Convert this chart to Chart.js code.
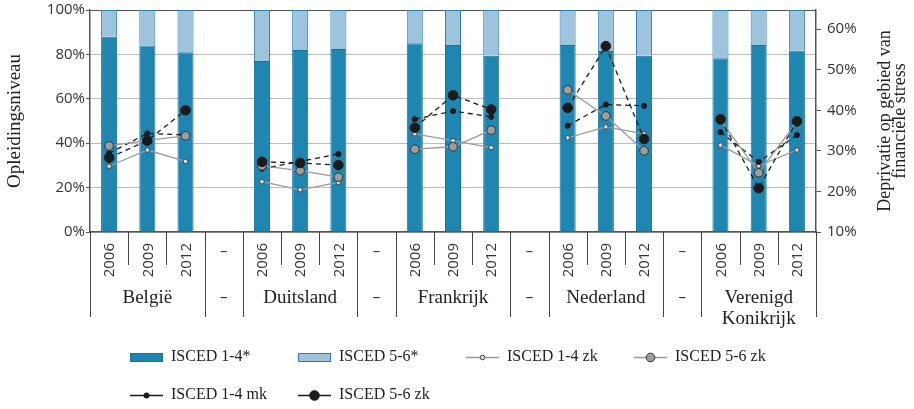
<!DOCTYPE html>
<html>
<head>
<meta charset="utf-8">
<script src="https://cdn.jsdelivr.net/npm/chart.js@4/dist/chart.umd.min.js"></script>
<style>
  html, body { margin: 0; padding: 0; background: #ffffff; }
  #wrap { width: 914px; height: 409px; position: relative; }
</style>
</head>
<body>
<div id="wrap"><canvas id="c" width="914" height="409"></canvas></div>
<script>
// ---- categories / tick labels ----
const xLabels = ['2006','2009','2012','–','2006','2009','2012','–','2006','2009','2012','–','2006','2009','2012','–','2006','2009','2012'];
const groupLabels = ['België','–','Duitsland','–','Frankrijk','–','Nederland','–',['Verenigd','Konikrijk']];
const groupSpans = [3,1,3,1,3,1,3,1,3];

// ---- bar series (left axis, share in %) ----
const isced14 = [88, 84, 81, null, 77, 82, 82.4, null, 85, 84.2, 79.4, null, 84.2, 81.5, 79.4, null, 78.3, 84.2, 81.8];
const isced56 = [12, 16, 19, null, 23, 18, 17.6, null, 15, 15.8, 20.6, null, 15.8, 18.5, 20.6, null, 21.7, 15.8, 18.2];

// ---- line series (right axis, deprivation %) ----
const isced14zk = [26.2, 30.2, 27.4, null, 22.4, 20.4, 22.2, null, 34.2, 32.5, 30.8, null, 33.2, 35.9, 34.2, null, 31.4, 26.3, 30.2];
const isced56zk = [31.2, 32.6, 33.7, null, 26.3, 25.1, 23.5, null, 30.4, 31.0, 35.1, null, 45.0, 38.6, 30.0, null, 37.6, 24.6, 37.1];
const isced14mk = [29.4, 34.3, 33.9, null, 25.6, 27.4, 29.2, null, 37.8, 39.8, 38.4, null, 36.2, 41.4, 41.1, null, 34.6, 27.3, 33.9];
const isced56mk = [28.3, 32.5, 40.0, null, 27.3, 27.0, 26.5, null, 35.7, 43.7, 40.2, null, 40.6, 55.8, 32.9, null, 37.8, 20.8, 37.3];

const seriesNames = ['ISCED 1-4*', 'ISCED 5-6*', 'ISCED 1-4 zk', 'ISCED 5-6 zk', 'ISCED 1-4 mk', 'ISCED 5-6 zk'];

const SERIF = '"Liberation Serif", "DejaVu Serif", serif';
const SANS = '"Open Sans", "Noto Sans", sans-serif';

const xAxisLabels = {
  id: 'xAxisLabels',
  afterDraw(chart) {
    const { ctx, chartArea } = chart;
    const x = chart.scales.x;
    const step = x.getPixelForValue(1) - x.getPixelForValue(0);
    const bottom = chartArea.bottom;
    ctx.save();
    const edges = new Set([0]);
    let acc = 0;
    groupSpans.forEach(s => { acc += s; edges.add(acc); });
    ctx.strokeStyle = '#444';
    ctx.lineWidth = 1;
    for (let i = 0; i <= xLabels.length; i++) {
      const xb = Math.round(x.getPixelForValue(0) - step / 2 + i * step) + 0.5;
      const len = edges.has(i) ? 85 : 33;
      ctx.beginPath();
      ctx.moveTo(xb, bottom);
      ctx.lineTo(xb, bottom + len);
      ctx.stroke();
    }
    ctx.fillStyle = '#333';
    ctx.font = '15px ' + SANS;
    xLabels.forEach((lab, i) => {
      const px = x.getPixelForValue(i);
      if (lab === '–') {
        ctx.textAlign = 'center';
        ctx.textBaseline = 'middle';
        ctx.fillText(lab, px, bottom + 20);
      } else {
        ctx.save();
        ctx.translate(px + 1, bottom + 11);
        ctx.rotate(-Math.PI / 2);
        ctx.textAlign = 'right';
        ctx.textBaseline = 'middle';
        ctx.fillText(lab, 0, 0);
        ctx.restore();
      }
    });
    ctx.fillStyle = '#222';
    ctx.textAlign = 'center';
    ctx.textBaseline = 'middle';
    let start = 0;
    groupLabels.forEach((g, gi) => {
      const span = groupSpans[gi];
      const cx = (x.getPixelForValue(start) + x.getPixelForValue(start + span - 1)) / 2;
      const lines = Array.isArray(g) ? g : [g];
      lines.forEach((t, li) => {
        ctx.font = (t === '–') ? '15px ' + SANS : '19px ' + SERIF;
        ctx.fillText(t, cx, bottom + 66 + li * 21);
      });
      start += span;
    });
    ctx.restore();
  }
};

const rightTitle = {
  id: 'rightTitle',
  afterDraw(chart) {
    const { ctx, chartArea } = chart;
    const r = chart.scales.y1;
    const cy = (chartArea.top + chartArea.bottom) / 2;
    ctx.save();
    ctx.font = '18px ' + SERIF;
    ctx.fillStyle = '#222';
    ctx.textAlign = 'center';
    ctx.textBaseline = 'middle';
    [['Deprivatie op gebied van', 69], ['financiële stress', 84]].forEach(([t, dx]) => {
      ctx.save();
      ctx.translate(r.left + dx, cy);
      ctx.rotate(-Math.PI / 2);
      ctx.fillText(t, 0, 0);
      ctx.restore();
    });
    ctx.restore();
  }
};

const customLegend = {
  id: 'customLegend',
  afterDraw(chart) {
    const { ctx } = chart;
    const cols = [130, 298, 466, 634];
    const rows = [357, 395];
    ctx.save();
    chart.data.datasets.forEach((ds, i) => {
      const x0 = cols[i % 4];
      const y = rows[Math.floor(i / 4)];
      if (ds.type === 'line') {
        ctx.strokeStyle = ds.borderColor;
        ctx.lineWidth = 1.3;
        ctx.setLineDash([]);
        ctx.beginPath();
        ctx.moveTo(x0, y + 0.5);
        ctx.lineTo(x0 + 33, y + 0.5);
        ctx.stroke();
        ctx.beginPath();
        ctx.arc(x0 + 16.5, y + 0.5, ds.pointRadius, 0, Math.PI * 2);
        ctx.fillStyle = ds.pointBackgroundColor;
        ctx.fill();
        ctx.strokeStyle = ds.pointBorderColor;
        ctx.lineWidth = 1;
        ctx.stroke();
      } else {
        ctx.fillStyle = ds.backgroundColor;
        ctx.fillRect(x0, y - 4, 33, 9);
        ctx.strokeStyle = ds.borderColor;
        ctx.lineWidth = 1;
        ctx.strokeRect(x0 + 0.5, y - 3.5, 32, 8);
      }
      ctx.font = '16px ' + SERIF;
      ctx.fillStyle = '#222';
      ctx.textAlign = 'left';
      ctx.textBaseline = 'middle';
      ctx.fillText(ds.label, x0 + 41, y);
    });
    ctx.restore();
  }
};

const lineCommon = {
  type: 'line',
  yAxisID: 'y1',
  spanGaps: false,
  borderWidth: 1.3,
  pointBorderWidth: 1,
  tension: 0
};

new Chart(document.getElementById('c'), {
  type: 'bar',
  data: {
    labels: xLabels,
    datasets: [
      { label: seriesNames[0], data: isced14, yAxisID: 'y', stack: 's', order: 10,
        backgroundColor: '#1f86b1', borderColor: '#17719b', borderWidth: 1,
        barPercentage: 0.42, categoryPercentage: 1 },
      { label: seriesNames[1], data: isced56, yAxisID: 'y', stack: 's', order: 11,
        backgroundColor: '#9dc3dd', borderColor: '#2d7fae', borderWidth: 1,
        barPercentage: 0.42, categoryPercentage: 1 },
      Object.assign({}, lineCommon, { label: seriesNames[2], data: isced14zk, order: 4,
        borderColor: '#9a9a9a', pointRadius: 2.3, pointBackgroundColor: '#d8d8d8', pointBorderColor: '#444' }),
      Object.assign({}, lineCommon, { label: seriesNames[3], data: isced56zk, order: 2,
        borderColor: '#9a9a9a', pointRadius: 4.3, pointBackgroundColor: '#9d9d9d', pointBorderColor: '#333' }),
      Object.assign({}, lineCommon, { label: seriesNames[4], data: isced14mk, order: 3,
        borderColor: '#1a1a1a', borderDash: [5, 4], pointRadius: 2.6, pointBackgroundColor: '#1a1a1a', pointBorderColor: '#1a1a1a' }),
      Object.assign({}, lineCommon, { label: seriesNames[5], data: isced56mk, order: 1,
        borderColor: '#1a1a1a', borderDash: [5, 4], pointRadius: 4.8, pointBackgroundColor: '#1a1a1a', pointBorderColor: '#1a1a1a' })
    ]
  },
  options: {
    responsive: false,
    animation: false,
    devicePixelRatio: 1,
    layout: { padding: { top: 10, left: 0, right: 0, bottom: 0 } },
    plugins: { legend: { display: false }, tooltip: { enabled: false }, title: { display: false } },
    scales: {
      x: {
        stacked: true,
        offset: true,
        ticks: { display: false },
        grid: { display: false },
        border: { display: true, color: '#555', width: 1.5 },
        afterFit(s) { s.height = 177; s.paddingLeft = 0; s.paddingRight = 0; }
      },
      y: {
        position: 'left',
        stacked: true,
        min: 0, max: 100,
        ticks: { stepSize: 20, padding: 1, color: '#333', font: { family: SANS, size: 15 },
          callback: v => v + '%' },
        grid: { color: ctx => (ctx.tick && ctx.tick.value === 100) ? '#555' : '#bdbdbd',
          lineWidth: 1, tickLength: 4, tickColor: '#555' },
        border: { display: true, color: '#555', width: 1.5 },
        title: { display: true, text: 'Opleidingsniveau', color: '#222',
          font: { family: SERIF, size: 19 }, padding: { top: 4, bottom: 2 } },
        afterFit(s) { s.width = 90; s.paddingTop = 0; s.paddingBottom = 0; }
      },
      y1: {
        position: 'right',
        min: 10, max: 64.7,
        ticks: { stepSize: 10, includeBounds: false, padding: 6, color: '#333',
          font: { family: SANS, size: 15 }, callback: v => v + '%' },
        grid: { drawOnChartArea: false, tickLength: 5, tickColor: '#555', color: '#555' },
        border: { display: true, color: '#555', width: 1.5 },
        afterFit(s) { s.width = 98; s.paddingTop = 0; s.paddingBottom = 0; }
      }
    }
  },
  plugins: [xAxisLabels, rightTitle, customLegend]
});
</script>
</body>
</html>
